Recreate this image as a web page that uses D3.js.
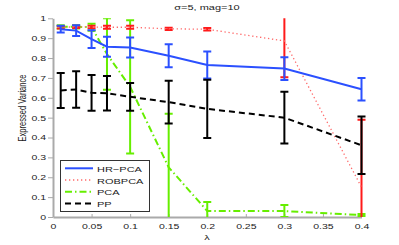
<!DOCTYPE html>
<html>
<head>
<meta charset="utf-8">
<script src="https://cdn.jsdelivr.net/npm/d3@7"></script>
<style>
  body { margin: 0; background: #fff; }
  text { font-family: "Liberation Sans", Arial, sans-serif; fill: #222; }
</style>
</head>
<body>
<div id="chart"></div>
<script>
const lambdas = [0.01, 0.03, 0.05, 0.07, 0.1, 0.15, 0.2, 0.3, 0.4];
const hrpca = [0.945, 0.938, 0.895, 0.857, 0.853, 0.812, 0.765, 0.747, 0.643];
const hrpcaErr = [0.017, 0.027, 0.045, 0.05, 0.05, 0.058, 0.068, 0.057, 0.057];
const robpca = [0.955, 0.957, 0.956, 0.955, 0.955, 0.947, 0.945, 0.886, 0.15];
const robpcaErr = [0.006, 0.006, 0.006, 0.008, 0.008, 0.006, 0.006, 0.183, 0.34];
const pca = [0.957, 0.957, 0.955, 0.82, 0.655, 0.25, 0.03, 0.03, 0.01];
const pcaErr = [0.008, 0.008, 0.018, 0.18, 0.335, 0.27, 0.045, 0.03, 0.005];
const pp = [0.637, 0.642, 0.625, 0.623, 0.605, 0.578, 0.544, 0.5, 0.361];
const ppErr = [0.088, 0.092, 0.09, 0.087, 0.07, 0.108, 0.147, 0.13, 0.145];

const xTicks = [0, 0.05, 0.1, 0.15, 0.2, 0.25, 0.3, 0.35, 0.4];
const yTicks = [0, 0.1, 0.2, 0.3, 0.4, 0.5, 0.6, 0.7, 0.8, 0.9, 1];

const width = 399;
const height = 245;
const squish = 0.72;

// drawing order: later ones on top
const series = [
    { name: 'PCA', values: pca, err: pcaErr, color: '#66ee00', lineColor: '#66ee00', dash: '7,3,1.5,3', width: 2 },
    { name: 'ROBPCA', values: robpca, err: robpcaErr, color: '#ff1a1a', lineColor: '#ff6a6a', dash: '1.3,2.7', width: 1.3 },
    { name: 'HR\u2212PCA', values: hrpca, err: hrpcaErr, color: '#2b50ff', lineColor: '#2b50ff', dash: null, width: 2 },
    { name: 'PP', values: pp, err: ppErr, color: '#000', lineColor: '#000', dash: '6,4', width: 2 }
];
const legendOrder = ['HR\u2212PCA', 'ROBPCA', 'PCA', 'PP'];

const svg = d3.select('#chart').append('svg')
    .attr('width', width)
    .attr('height', height);

const xScale = d3.scaleLinear().domain([0, 0.4]).range([53, 361.5]);
const yScale = d3.scaleLinear().domain([0, 1]).range([217, 18.3]);

svg.append('clipPath').attr('id', 'plotClip')
    .append('rect')
    .attr('x', 40).attr('y', yScale(1))
    .attr('width', 340).attr('height', yScale(0) - yScale(1));

// axes
const yAxis = svg.append('g')
    .attr('transform', `translate(${xScale(0)},0)`)
    .call(d3.axisLeft(yScale).tickValues(yTicks).tickSize(5).tickSizeOuter(0).tickPadding(2)
        .tickFormat(d => d3.format('')(+d.toFixed(1))));
yAxis.select('.domain').attr('stroke', '#aaa').attr('stroke-width', 2);
yAxis.selectAll('.tick line').attr('stroke', '#aaa');
yAxis.selectAll('.tick text')
    .attr('font-size', 10.5)
    .attr('transform', `scale(1,${squish})`);

const xAxis = svg.append('g')
    .attr('transform', `translate(0,${yScale(0)})`)
    .call(d3.axisBottom(xScale).tickValues(xTicks).tickSize(-3).tickSizeOuter(0).tickPadding(9)
        .tickFormat(d => d3.format('')(+d.toFixed(2))));
xAxis.select('.domain').attr('stroke', '#aaa').attr('stroke-width', 2);
xAxis.selectAll('.tick line').attr('stroke', '#aaa');
xAxis.selectAll('.tick text')
    .attr('font-size', 10.5)
    .attr('transform', `scale(1,${squish})`);

// series
const plot = svg.append('g').attr('clip-path', 'url(#plotClip)');
const line = d3.line()
    .x((d, i) => xScale(lambdas[i]))
    .y(d => yScale(d));

series.forEach(s => {
    const g = plot.append('g');
    const bars = g.selectAll('g.bar')
        .data(s.values)
        .enter()
        .append('g')
        .attr('class', 'bar')
        .attr('stroke', s.color)
        .attr('stroke-width', 2);
    bars.append('line')
        .attr('x1', (d, i) => xScale(lambdas[i]))
        .attr('x2', (d, i) => xScale(lambdas[i]))
        .attr('y1', (d, i) => yScale(d + s.err[i]))
        .attr('y2', (d, i) => yScale(d - s.err[i]));
    bars.append('line')
        .attr('x1', (d, i) => xScale(lambdas[i]) - 4)
        .attr('x2', (d, i) => xScale(lambdas[i]) + 4)
        .attr('y1', (d, i) => yScale(d + s.err[i]))
        .attr('y2', (d, i) => yScale(d + s.err[i]));
    bars.append('line')
        .attr('x1', (d, i) => xScale(lambdas[i]) - 4)
        .attr('x2', (d, i) => xScale(lambdas[i]) + 4)
        .attr('y1', (d, i) => yScale(d - s.err[i]))
        .attr('y2', (d, i) => yScale(d - s.err[i]));
    g.append('path')
        .datum(s.values)
        .attr('d', line)
        .attr('fill', 'none')
        .attr('stroke', s.lineColor)
        .attr('stroke-width', s.width)
        .attr('stroke-dasharray', s.dash);
});

// title and labels
svg.append('text')
    .attr('transform', `translate(207,10) scale(1,${squish})`)
    .attr('text-anchor', 'middle')
    .attr('font-size', 11)
    .text('\u03c3=5, mag=10');

svg.append('text')
    .attr('transform', `translate(207,240) scale(1,${squish})`)
    .attr('text-anchor', 'middle')
    .attr('font-size', 11)
    .text('\u03bb');

svg.append('text')
    .attr('transform', `translate(26,108) scale(1,${squish}) rotate(-90)`)
    .attr('text-anchor', 'middle')
    .attr('font-size', 10.5)
    .text('Expressed Variance');

// legend
const legend = svg.append('g');
legend.append('rect')
    .attr('x', 60.5).attr('y', 160.5)
    .attr('width', 89).attr('height', 51)
    .attr('fill', '#fff')
    .attr('stroke', '#333')
    .attr('stroke-width', 1);

legendOrder.forEach((name, i) => {
    const s = series.find(d => d.name === name);
    const y = 168.3 + i * 11.7;
    legend.append('line')
        .attr('x1', 65).attr('x2', 93)
        .attr('y1', y).attr('y2', y)
        .attr('stroke', s.lineColor)
        .attr('stroke-width', s.width)
        .attr('stroke-dasharray', s.dash);
    legend.append('text')
        .attr('transform', `translate(97,${y + 3.6}) scale(1,${squish})`)
        .attr('font-size', 11)
        .text(name);
});
</script>
</body>
</html>
